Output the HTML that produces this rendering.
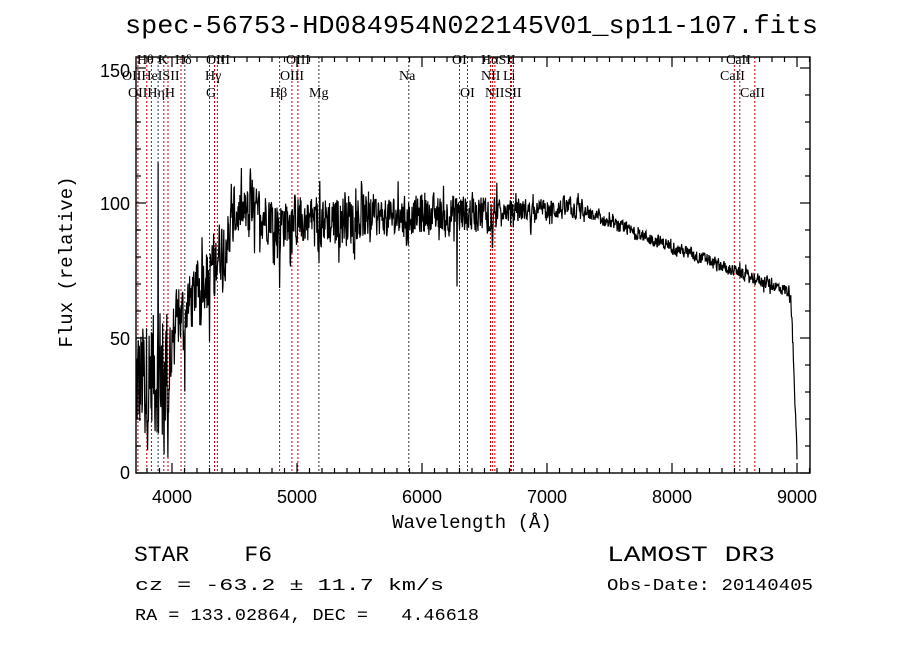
<!DOCTYPE html>
<html><head><meta charset="utf-8"><style>
html,body{margin:0;padding:0;background:#fff;}
svg{display:block;}
text{white-space:pre;}
.m{font-family:"Liberation Mono",monospace;}
.s{font-family:"Liberation Sans",sans-serif;}
.r{font-family:"Liberation Serif",serif;}
</style></head><body>
<svg id="c" width="900" height="649" viewBox="0 0 900 649" xmlns="http://www.w3.org/2000/svg" xml:space="preserve">
<rect width="900" height="649" fill="#fff"/>
<text class="m" x="125" y="33" font-size="26" textLength="693" lengthAdjust="spacingAndGlyphs">spec-56753-HD084954N022145V01_sp11-107.fits</text>
<g id="lines" stroke="#c00000" stroke-width="1" stroke-dasharray="2,2"></g>
<g class="r" font-size="14" fill="#000">
<text x="137" y="64">Hθ</text><text x="158" y="64">K</text><text x="175" y="64">Hδ</text><text x="206" y="64">OIII</text>
<text x="286" y="64">OIII</text><text x="452" y="64">OI</text><text x="481" y="64">HαSII</text><text x="726" y="64">CaII</text>
<text x="122" y="80">OIIHeISII</text><text x="205" y="80">Hγ</text><text x="280" y="80">OIII</text><text x="399" y="80">Na</text>
<text x="481" y="80">NII</text><text x="503" y="80">Li</text><text x="720" y="80">CaII</text>
<text x="128" y="97">OIIHηH</text><text x="206" y="97">G</text><text x="270" y="97">Hβ</text><text x="309" y="97">Mg</text>
<text x="460" y="97">OI</text><text x="485" y="97">NIISII</text><text x="740" y="97">CaII</text>
</g>
<path id="spec" fill="none" stroke="#000" stroke-width="1.2"/>
<g id="ticks" stroke="#000" stroke-width="1.2"></g>
<rect x="136" y="57" width="674" height="416" fill="none" stroke="#000" stroke-width="1.4"/>
<g class="s" font-size="18" text-anchor="middle">
<text x="172" y="503">4000</text><text x="297" y="503">5000</text><text x="422" y="503">6000</text>
<text x="547" y="503">7000</text><text x="672" y="503">8000</text><text x="797" y="503">9000</text>
</g>
<g class="s" font-size="18" text-anchor="end">
<text x="130" y="479">0</text><text x="130" y="345">50</text><text x="130" y="210">100</text><text x="130" y="77">150</text>
</g>
<text class="m" x="472" y="528" font-size="19" text-anchor="middle">Wavelength (Å)</text>
<text class="m" x="72" y="262" font-size="19" text-anchor="middle" transform="rotate(-90 72 262)">Flux (relative)</text>
<text class="m" x="134" y="561" font-size="22" textLength="138" lengthAdjust="spacingAndGlyphs">STAR    F6</text>
<text class="m" x="607" y="561" font-size="22" textLength="168" lengthAdjust="spacingAndGlyphs">LAMOST DR3</text>
<text class="m" x="135" y="590" font-size="17" textLength="309" lengthAdjust="spacingAndGlyphs">cz = -63.2 ± 11.7 km/s</text>
<text class="m" x="607" y="590" font-size="17" textLength="206" lengthAdjust="spacingAndGlyphs">Obs-Date: 20140405</text>
<text class="m" x="135" y="620" font-size="17" textLength="344" lengthAdjust="spacingAndGlyphs">RA = 133.02864, DEC =   4.46618</text>
</svg>
<script>
var X=function(l){return 172+(l-4000)*0.125;},Y=function(f){return 473-f*2.7;};
var NS="http://www.w3.org/2000/svg";
var ls=[3727,3798,3835,3889,3934,3968,4072,4102,4300,4340,4363,4861,4959,5007,5175,5894,6300,6364,6548,6563,6583,6708,6716,6731,8498,8542,8662];
var g=document.getElementById('lines');
ls.forEach(function(l){var e=document.createElementNS(NS,'line');var x=X(l).toFixed(1);e.setAttribute('x1',x);e.setAttribute('x2',x);e.setAttribute('y1',57);e.setAttribute('y2',473);if(l==5894||l==4102||l==5175||l==3889)e.setAttribute('stroke','#333');g.appendChild(e);});
var t=document.getElementById('ticks');
function tk(x1,y1,x2,y2){var e=document.createElementNS(NS,'line');e.setAttribute('x1',x1);e.setAttribute('y1',y1);e.setAttribute('x2',x2);e.setAttribute('y2',y2);t.appendChild(e);}
for(var l=3800;l<=9100;l+=100){var x=X(l),L=(l%1000==0)?10:5;tk(x,473,x,473-L);tk(x,57,x,57+L);}
for(var f=0;f<=155;f+=10){var y=Y(f),L=(f%50==0)?10:5;tk(136,y,136+L,y);tk(810,y,810-L,y);}
var s=12345;function rnd(){s=(s*1103515245+12345)%2147483648;return s/2147483648;}
function base(l){
 if(l<4000)return 32+ (l-3710)/290*12;
 if(l<4500)return 52+(l-4000)/500*40;
 if(l<4800)return 96;
 if(l<7200)return 93+(l-4800)/2400*5;
 if(l<8950)return 98-(l-7200)/1750*31;
 return 67-(l-8950)/50*60;}
function amp(l){if(l<4000)return 30;if(l<4500)return 14;if(l<5600)return 12;if(l<6600)return 9;if(l<7300)return 5;return 3;}
var dips=[[4861,20,6],[4300,18,8],[5170,10,8],[5270,8,5],[6280,28,3],[6563,30,4],[3934,30,8],[3968,25,8],[4102,15,8],[4340,20,6],[5890,8,4],[6870,6,4]];
var d='',sm=0;
for(var l=3712;l<=9000;l+=3){var b=base(l),a=amp(l);var n=(rnd()-0.5)*2*a;if(rnd()<0.12)n+=(rnd()<0.6?-1:1)*a*0.8;
 sm=0.25*sm+0.75*n;var f=b+sm;
 dips.forEach(function(p){var dd=l-p[0];if(Math.abs(dd)<p[2])f-=p[1]*(1-Math.abs(dd)/p[2]);});
 if(l>=3888&&l<=3891)f=115;
 if(f<0)f=0;if(f>150)f=150;
 d+=(d?'L':'M')+X(l).toFixed(1)+','+Y(f).toFixed(1);}
d+='L'+X(9000).toFixed(1)+','+Y(5).toFixed(1);
document.getElementById('spec').setAttribute('d',d);
</script>
</body></html>
